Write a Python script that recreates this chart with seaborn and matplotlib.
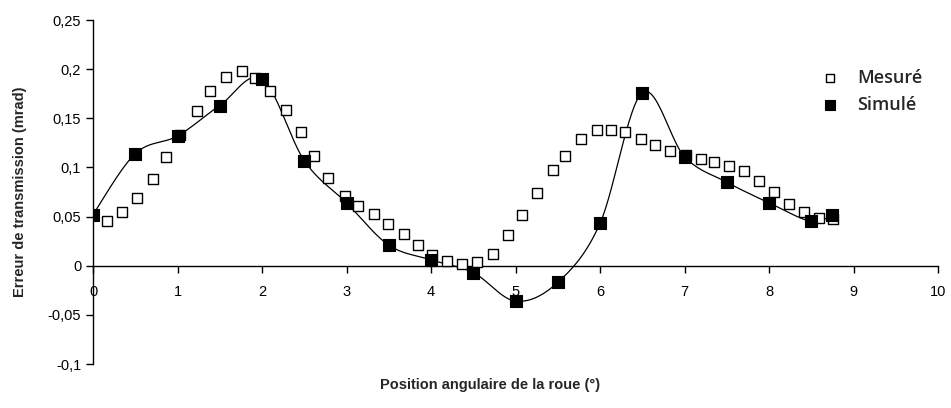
import numpy as np
import pandas as pd
import matplotlib
matplotlib.use("Agg")
import matplotlib.pyplot as plt
import seaborn as sns

# measured values (open squares)
mesure_x = [0.17, 0.34, 0.52, 0.71, 0.86, 1.03, 1.23, 1.39, 1.57, 1.76, 1.92,
            2.10, 2.28, 2.46, 2.61, 2.78, 2.98, 3.14, 3.32, 3.49, 3.68, 3.85,
            4.01, 4.19, 4.37, 4.55, 4.73, 4.91, 5.08, 5.26, 5.44, 5.59, 5.78,
            5.96, 6.13, 6.30, 6.49, 6.65, 6.83, 7.02, 7.19, 7.35, 7.53, 7.71,
            7.88, 8.06, 8.24, 8.42, 8.59, 8.76]
mesure_y = [0.046, 0.055, 0.069, 0.088, 0.111, 0.133, 0.157, 0.178, 0.192,
            0.198, 0.191, 0.178, 0.158, 0.136, 0.112, 0.089, 0.071, 0.061,
            0.053, 0.042, 0.032, 0.021, 0.011, 0.005, 0.002, 0.004, 0.012,
            0.031, 0.052, 0.074, 0.097, 0.112, 0.129, 0.138, 0.138, 0.136,
            0.129, 0.123, 0.117, 0.113, 0.109, 0.106, 0.101, 0.096, 0.086,
            0.075, 0.063, 0.055, 0.049, 0.048]

# simulated values (filled squares + smoothed line)
simule_x = [0.0, 0.5, 1.0, 1.5, 2.0, 2.5, 3.0, 3.5, 4.0, 4.5, 5.0, 5.5, 6.0,
            6.5, 7.0, 7.5, 8.0, 8.5, 8.75]
simule_y = [0.052, 0.114, 0.132, 0.163, 0.190, 0.107, 0.064, 0.021, 0.006,
            -0.007, -0.036, -0.017, 0.043, 0.176, 0.111, 0.085, 0.064, 0.045,
            0.052]

x_ticks = [0, 1, 2, 3, 4, 5, 6, 7, 8, 9, 10]
y_ticks = [-0.1, -0.05, 0, 0.05, 0.1, 0.15, 0.2, 0.25]
y_tick_labels = ["-0,1", "-0,05", "0", "0,05", "0,1", "0,15", "0,2", "0,25"]


def excel_smooth(xs, ys, n=30):
    # Catmull-Rom style smoothing, like Excel's "smoothed line"
    xs = np.asarray(xs, float)
    ys = np.asarray(ys, float)
    px = np.concatenate([[xs[0]], xs, [xs[-1]]])
    py = np.concatenate([[ys[0]], ys, [ys[-1]]])
    out_x, out_y = [], []
    t = np.linspace(0, 1, n)
    for i in range(1, len(px) - 2):
        p0 = np.array([px[i], py[i]])
        p3 = np.array([px[i + 1], py[i + 1]])
        p1 = p0 + (np.array([px[i + 1], py[i + 1]]) - np.array([px[i - 1], py[i - 1]])) / 6
        p2 = p3 - (np.array([px[i + 2], py[i + 2]]) - np.array([px[i], py[i]])) / 6
        b = ((1 - t) ** 3)[:, None] * p0 + (3 * (1 - t) ** 2 * t)[:, None] * p1 \
            + (3 * (1 - t) * t ** 2)[:, None] * p2 + (t ** 3)[:, None] * p3
        out_x.extend(b[:, 0])
        out_y.extend(b[:, 1])
    return np.array(out_x), np.array(out_y)


sns.set_style("white")
plt.rcParams["font.family"] = ["Liberation Sans", "DejaVu Sans"]

fig = plt.figure(figsize=(9.51, 4.08), dpi=100)
ax = fig.add_axes([93 / 951, 1 - 364 / 408, (938 - 93) / 951, (364 - 20) / 408])

df_mes = pd.DataFrame({"x": mesure_x, "y": mesure_y})
df_sim = pd.DataFrame({"x": simule_x, "y": simule_y})
sx, sy = excel_smooth(simule_x, simule_y)
df_curve = pd.DataFrame({"x": sx, "y": sy})

sns.lineplot(data=df_curve, x="x", y="y", sort=False, color="black",
             linewidth=0.9, ax=ax, legend=False)
sns.scatterplot(data=df_mes, x="x", y="y", marker="s", s=60, facecolor="white",
                edgecolor="black", linewidth=1.0, ax=ax, label="Mesuré", zorder=3)
sns.scatterplot(data=df_sim, x="x", y="y", marker="s", s=70, color="black",
                edgecolor="black", linewidth=0.8, ax=ax, label="Simulé", zorder=4)

ax.set_xlim(0, 10)
ax.set_ylim(-0.1, 0.25)
ax.set_xticks(x_ticks)
ax.set_yticks(y_ticks)
ax.set_yticklabels(y_tick_labels)

for s in ["top", "right"]:
    ax.spines[s].set_visible(False)
ax.spines["bottom"].set_position(("data", 0))
ax.spines["bottom"].set_color("black")
ax.spines["left"].set_color("black")
ax.spines["bottom"].set_linewidth(1.0)
ax.spines["left"].set_linewidth(1.0)
ax.tick_params(axis="both", direction="out", length=5, width=1.0, color="black",
               labelsize=10.5, labelcolor="black", bottom=True, left=True)
ax.tick_params(axis="x", pad=9)

ax.set_xlabel("")
ax.set_ylabel("")
fig.text(490 / 951, 1 - 385 / 408,
         "Position angulaire de la roue (°)", ha="center", va="center",
         fontsize=10.5, fontweight="bold")
fig.text(20 / 951, 1 - 192 / 408, "Erreur de transmission (mrad)", rotation=90,
         ha="center", va="center", fontsize=10.5, fontweight="bold")

leg = ax.legend(loc="upper left", bbox_to_anchor=(0.831, 0.905), frameon=False,
                handletextpad=0.55, labelspacing=0.5, markerscale=0.8,
                prop={"family": ["Open Sans", "DejaVu Sans"], "size": 13,
                      "weight": "semibold"})

fig.savefig("out.png", dpi=100)
